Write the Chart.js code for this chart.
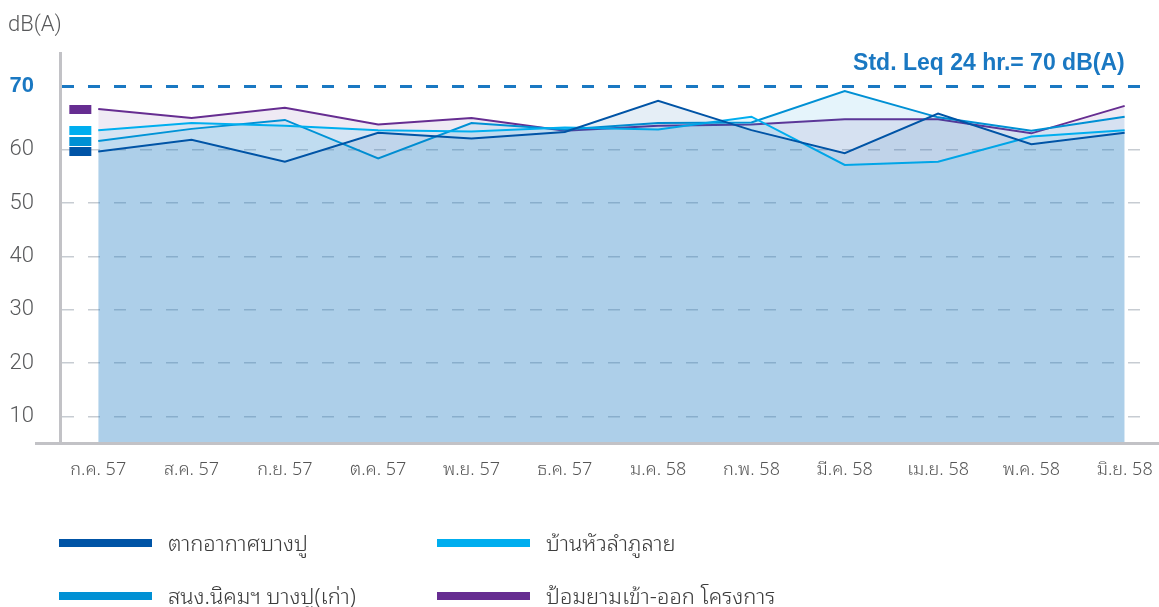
<!DOCTYPE html>
<html>
<head>
<meta charset="utf-8">
<script src="https://cdn.jsdelivr.net/npm/chart.js@4/dist/chart.umd.min.js"></script>
<style>
  body { margin: 0; background: #fff; overflow: hidden; }
  #wrap { position: relative; width: 1159px; height: 607px; }
  #legend {
    position: absolute; left: 59px; top: 525px;
    display: grid; grid-template-columns: 378px auto; row-gap: 17px;
    font-family: "Noto Sans Thai Looped", "Noto Sans Thai", "Noto Sans", "DejaVu Sans", sans-serif;
    font-size: 22px; font-weight: 300; color: #3c3c3c;
  }
  .item { display: flex; align-items: center; height: 36px; white-space: nowrap; }
  .item span:last-child { position: relative; top: -2px; }
  .swatch { width: 93px; height: 8px; margin-right: 16px; }
</style>
</head>
<body>
<div id="wrap">
  <canvas id="chart" width="1159" height="607"></canvas>
  <div id="legend"></div>
</div>
<script>
// Data (dB(A), monthly Leq 24 hr)
const MONTHS = ['ก.ค. 57', 'ส.ค. 57', 'ก.ย. 57', 'ต.ค. 57', 'พ.ย. 57', 'ธ.ค. 57',
                'ม.ค. 58', 'ก.พ. 58', 'มี.ค. 58', 'เม.ย. 58', 'พ.ค. 58', 'มิ.ย. 58'];
const TAKAKAT = [59.7, 61.6, 57.8, 62.7, 61.8, 62.8, 67.7, 63.1, 59.4, 65.7, 60.9, 62.7];
const BAN_HUA_LAM = [63.1, 64.2, 63.8, 63.1, 62.9, 63.5, 63.2, 65.2, 57.2, 57.8, 62.1, 63.1];
const NIKHOM_OLD = [61.4, 63.3, 64.7, 58.4, 64.2, 63.2, 64.2, 64.3, 69.2, 65.1, 63.0, 65.2];
const GATE_POST = [66.4, 65.0, 66.6, 64.0, 65.0, 63.0, 63.8, 64.0, 64.8, 64.8, 62.6, 66.9];
const Y_TICKS = [10, 20, 30, 40, 50, 60, 70];
const STD_LIMIT = 70;

const STD_BLUE = '#1a78c2';
const THAI_FONT = '"Noto Sans Thai Looped", "Noto Sans Thai", "Noto Sans", sans-serif';

// the original axis is drawn with the 60-70 band stretched a bit
const BREAK = 60;
const STRETCH = 1.2;
class StretchedScale extends Chart.LinearScale {
    getPixelForValue(value) {
        if (value === null || value === undefined) return NaN;
        const v = value > BREAK ? BREAK + (value - BREAK) * STRETCH : value;
        return super.getPixelForValue(v);
    }
    getValueForPixel(pixel) {
        const v = super.getValueForPixel(pixel);
        return v > BREAK ? BREAK + (v - BREAK) / STRETCH : v;
    }
}
StretchedScale.id = 'stretched';
StretchedScale.defaults = Chart.LinearScale.defaults;
Chart.register(StretchedScale);

const toPoints = arr => arr.map((v, i) => ({ x: i, y: v }));

const series = [
    { label: 'ตากอากาศบางปู', data: TAKAKAT, color: '#0054a6', fill: 'rgba(0,84,166,0.1)' },
    { label: 'บ้านหัวลำภูลาย', data: BAN_HUA_LAM, color: '#00aeef', fill: 'rgba(0,174,239,0.1)' },
    { label: 'สนง.นิคมฯ บางปู(เก่า)', data: NIKHOM_OLD, color: '#0090d4', fill: 'rgba(0,144,212,0.1)' },
    { label: 'ป้อมยามเข้า-ออก โครงการ', data: GATE_POST, color: '#662d91', fill: 'rgba(102,45,145,0.1)' }
];

// extra drawing: axis line, unit label, std label, start markers
const decor = {
    id: 'decor',
    afterDraw(chart) {
        const { ctx, chartArea, scales: { x, y } } = chart;
        ctx.save();

        // bottom axis line runs past the plot on both sides
        ctx.strokeStyle = '#c2c2c6';
        ctx.lineWidth = 3;
        ctx.beginPath();
        ctx.moveTo(35, chartArea.bottom + 0.5);
        ctx.lineTo(chart.width, chartArea.bottom + 0.5);
        ctx.stroke();

        // unit
        ctx.fillStyle = '#58595b';
        ctx.font = '300 22px Roboto, "Liberation Sans", sans-serif';
        ctx.textAlign = 'left';
        ctx.textBaseline = 'alphabetic';
        ctx.fillText('dB(A)', 8, chartArea.top - 22);

        // standard label
        const stdY = y.getPixelForValue(STD_LIMIT);
        ctx.fillStyle = STD_BLUE;
        ctx.font = 'bold 23px "Liberation Sans", Arial, sans-serif';
        ctx.textAlign = 'right';
        ctx.fillText('Std. Leq 24 hr.= 70 dB(A)', x.getPixelForValue(MONTHS.length - 1), stdY - 16);

        // little colour blocks at each series' first value
        chart.data.datasets.forEach(ds => {
            const py = y.getPixelForValue(ds.data[0].y);
            ctx.fillStyle = ds.borderColor;
            ctx.fillRect(x.getPixelForValue(-0.31), Math.round(py - 4.5), 22, 9);
        });
        ctx.restore();
    }
};

const chart = new Chart(document.getElementById('chart'), {
    type: 'line',
    data: {
        datasets: series.map(s => ({
            label: s.label,
            data: toPoints(s.data),
            borderColor: s.color,
            backgroundColor: s.fill,
            borderWidth: 2,
            pointRadius: 0,
            tension: 0,
            fill: 'start'
        }))
    },
    options: {
        responsive: false,
        animation: false,
        devicePixelRatio: 1,
        layout: { padding: { left: 10, right: 11, top: 53, bottom: 114 } },
        plugins: { legend: { display: false }, tooltip: { enabled: false } },
        scales: {
            x: {
                type: 'linear',
                min: -0.41,
                max: 11.25,
                afterBuildTicks: scale => { scale.ticks = MONTHS.map((m, i) => ({ value: i })); },
                afterFit: scale => {
                    scale.height = 50;
                    scale.paddingLeft = 0;
                    scale.paddingRight = 0;
                },
                grid: { display: false, drawTicks: false },
                border: { display: false },
                ticks: {
                    autoSkip: false,
                    maxRotation: 0,
                    padding: 16,
                    color: '#555',
                    font: { family: THAI_FONT, size: 18, weight: '300' },
                    callback: (v, i) => MONTHS[i]
                }
            },
            y: {
                type: 'stretched',
                min: 5,
                max: 78.2,
                z: 1,
                afterBuildTicks: scale => { scale.ticks = Y_TICKS.map(v => ({ value: v })); },
                afterFit: scale => {
                    scale.width = 50;
                    scale.paddingTop = 0;
                    scale.paddingBottom = 0;
                },
                grid: {
                    drawTicks: false,
                    color: c => c.tick && c.tick.value === STD_LIMIT ? STD_BLUE : 'rgba(95,110,125,0.35)',
                    lineWidth: c => c.tick && c.tick.value === STD_LIMIT ? 3 : 1.5
                },
                border: { color: '#c2c2c6', width: 3, dash: [12, 14] },
                ticks: {
                    padding: 26,
                    color: c => c.tick && c.tick.value === STD_LIMIT ? STD_BLUE : '#58595b',
                    font: c => c.tick && c.tick.value === STD_LIMIT
                        ? { family: '"Liberation Sans", Arial, sans-serif', size: 22, weight: 'bold' }
                        : { family: 'Roboto, "Liberation Sans", sans-serif', size: 22, weight: '300' }
                }
            }
        }
    },
    plugins: [decor]
});

// legend, two columns
const legend = document.getElementById('legend');
chart.data.datasets.forEach(ds => {
    const item = document.createElement('div');
    item.className = 'item';
    const sw = document.createElement('span');
    sw.className = 'swatch';
    sw.style.background = ds.borderColor;
    const txt = document.createElement('span');
    txt.textContent = ds.label;
    item.appendChild(sw);
    item.appendChild(txt);
    legend.appendChild(item);
});
</script>
</body>
</html>
